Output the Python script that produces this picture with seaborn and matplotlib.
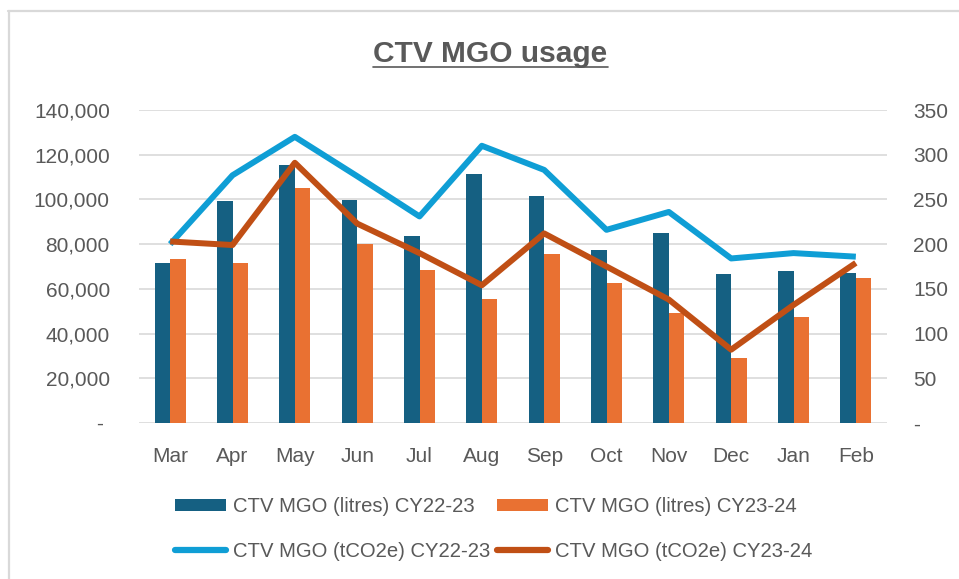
import numpy as np
import pandas as pd
import matplotlib
matplotlib.use("Agg")
import matplotlib.pyplot as plt
from matplotlib.patches import Patch
from matplotlib.lines import Line2D
import seaborn as sns

months = ["Mar", "Apr", "May", "Jun", "Jul", "Aug", "Sep", "Oct", "Nov", "Dec", "Jan", "Feb"]
litres_2223 = [71700, 99300, 115200, 99700, 83800, 111200, 101500, 77400, 84800, 66500, 68100, 67100]
litres_2324 = [73200, 71700, 105000, 80200, 68300, 55500, 75700, 62500, 49300, 29200, 47500, 64700]
tco2_2223 = [200, 277, 320, 276, 231, 310, 283, 216, 236, 184, 190, 186]
tco2_2324 = [203, 199, 291, 223, 190, 154, 212, 175, 138, 82, 132, 179]
series_labels = ["CTV MGO (litres) CY22-23", "CTV MGO (litres) CY23-24",
                 "CTV MGO (tCO2e) CY22-23", "CTV MGO (tCO2e) CY23-24"]
left_ticks = [0, 20000, 40000, 60000, 80000, 100000, 120000, 140000]
right_ticks = [0, 50, 100, 150, 200, 250, 300, 350]

c_dark = "#156082"
c_orange = "#E97132"
c_blue = "#0F9ED5"
c_brown = "#C04F15"
txt = "#595959"
grid_c = "#D9D9D9"

sns.set_style("white")
plt.rcParams["font.family"] = ["Liberation Sans", "DejaVu Sans"]

W, H = 959, 579
fig = plt.figure(figsize=(W / 100, H / 100), dpi=100)
ax = fig.add_axes([139 / W, 1 - 423 / H, (887 - 139) / W, (423 - 110) / H])

df = pd.DataFrame({
    "Month": months * 2,
    "Litres": litres_2223 + litres_2324,
    "Series": [series_labels[0]] * len(months) + [series_labels[1]] * len(months),
})
sns.barplot(data=df, x="Month", y="Litres", hue="Series", order=months,
            hue_order=series_labels[:2], palette=[c_dark, c_orange],
            width=0.5, saturation=1, legend=False, ax=ax, linewidth=0)

ax.set_ylim(0, 140000)
ax.set_xlim(-0.5, len(months) - 0.5)
ax.set_yticks(left_ticks)
ax.set_yticklabels(["- " if v == 0 else f"{v:,.0f}" for v in left_ticks])
ax.set_xlabel("")
ax.set_ylabel("")
ax.set_axisbelow(True)
ax.grid(axis="y", color=grid_c, linewidth=1.2)
ax.grid(axis="x", visible=False)
for s in ax.spines.values():
    s.set_visible(False)
ax.tick_params(axis="y", length=0, pad=21, labelsize=15, labelcolor=txt)
ax.tick_params(axis="x", length=0, pad=17.5, labelsize=15, labelcolor=txt)

ax2 = ax.twinx()
xpos = np.arange(len(months))
sns.lineplot(x=xpos, y=tco2_2223, ax=ax2, color=c_blue, linewidth=4.3,
             solid_joinstyle="round", solid_capstyle="butt")
sns.lineplot(x=xpos, y=tco2_2324, ax=ax2, color=c_brown, linewidth=4.3,
             solid_joinstyle="round", solid_capstyle="butt")
ax2.set_ylim(0, 350)
ax2.set_xlim(-0.5, len(months) - 0.5)
ax2.set_yticks(right_ticks)
ax2.set_yticklabels(["-" if v == 0 else f"{v:,.0f}" for v in right_ticks])
ax2.set_ylabel("")
ax2.grid(False)
for s in ax2.spines.values():
    s.set_visible(False)
ax2.tick_params(axis="y", length=0, pad=19, labelsize=15, labelcolor=txt)

# Title with underline
title = fig.text(0.5 * (373 + 608) / W, 1 - 62 / H, "CTV MGO usage", ha="center",
                 va="baseline", fontsize=21.5, fontweight="bold", color=txt)

# Legend
handles = [
    Patch(facecolor=c_dark, edgecolor="none"),
    Line2D([0], [0], color=c_blue, linewidth=4.5, solid_capstyle="round"),
    Patch(facecolor=c_orange, edgecolor="none"),
    Line2D([0], [0], color=c_brown, linewidth=4.5, solid_capstyle="round"),
]
labels = [series_labels[0], series_labels[2], series_labels[1], series_labels[3]]
leg = fig.legend(handles, labels, ncol=2, loc="center",
                 bbox_to_anchor=(494 / W, 1 - 529 / H), frameon=False,
                 fontsize=14.6, handlelength=2.5, handleheight=0.55,
                 handletextpad=0.35, columnspacing=0.35, labelspacing=1.25,
                 borderpad=0)
for t in leg.get_texts():
    t.set_color(txt)

# Chart border (top and left edges visible)
fig.add_artist(Line2D([8 / W, 1], [1 - 11 / H, 1 - 11 / H], color=grid_c, linewidth=1.6,
                      transform=fig.transFigure))
fig.add_artist(Line2D([9 / W, 9 / W], [0, 1 - 11 / H], color=grid_c, linewidth=1.6,
                      transform=fig.transFigure))

fig.canvas.draw()
bb = title.get_window_extent(fig.canvas.get_renderer())
uy = 1 - 67 / H
fig.add_artist(Line2D([bb.x0 / W, bb.x1 / W], [uy, uy], color=txt, linewidth=1.2,
                      transform=fig.transFigure))

fig.savefig("out.png", dpi=100)
